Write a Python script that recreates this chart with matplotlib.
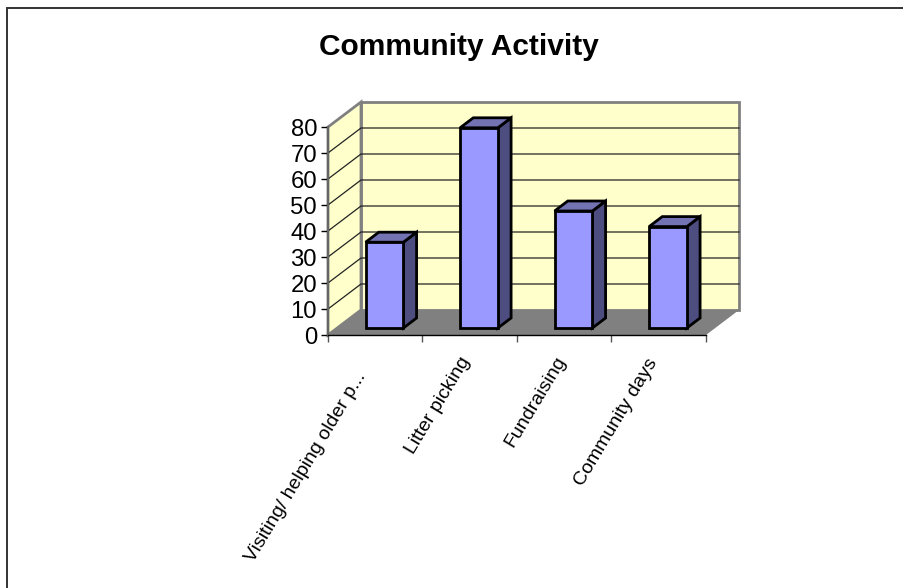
#!/usr/bin/env python3
"""
Community Activity, 3D style bar chart drawn on a flat axes
"""

import matplotlib
matplotlib.use("Agg")
import matplotlib.pyplot as plt
from matplotlib.patches import Polygon

categories = ["Visiting/ helping older p...", "Litter picking", "Fundraising", "Community days"]
values = [33, 77, 45, 39]
yticks = [0, 10, 20, 30, 40, 50, 60, 70, 80]
title = "Community Activity"

W, H = 904, 588


def main():
    """
    main function here
    """
    plt.rcParams['font.family'] = ['Liberation Sans', 'DejaVu Sans']
    fig = plt.figure(figsize=(W / 100, H / 100), dpi=100)
    ax = fig.add_axes([328 / W, 1 - 335 / H, 378 / W, 208 / H])
    ax.set_xlim(0, len(categories))
    ax.set_ylim(0, 80)
    ax.patch.set_alpha(0)

    # depth of the box, in data units
    dx = 33 / 94.5
    dy = 25 / 2.6

    def box(x, y, f):
        return (x + dx * f, y + dy * f)

    def poly(pts, fc, ec="none", lw=0, z=1):
        ax.add_patch(Polygon(pts, closed=True, fc=fc, ec=ec, lw=lw, zorder=z,
                             clip_on=False, joinstyle="miter"))

    n = len(categories)
    poly([box(0, 0, 1), box(n, 0, 1), box(n, 80, 1), box(0, 80, 1)], "#ffffcc", "#808080", 2, 1)
    poly([box(0, 0, 0), box(0, 0, 1), box(0, 80, 1), box(0, 80, 0)], "#ffffcc", "#808080", 2, 1)
    poly([box(0, 0, 0), box(n, 0, 0), box(n, 0, 1), box(0, 0, 1)], "#808080", z=2)

    for v in yticks[1:-1]:
        ax.plot(*zip(box(0, v, 0), box(0, v, 1), box(n, v, 1)), color="#222222", lw=0.9,
                clip_on=False, zorder=2, solid_joinstyle="miter")

    # bars
    f0, f1 = 0.28, 0.68
    for i, v in enumerate(values):
        x0, x1 = i + 0.5 - 0.2, i + 0.5 + 0.2
        poly([box(x1, 0, f0), box(x1, 0, f1), box(x1, v, f1), box(x1, v, f0)], "#4d4d80", "black", 2, 5)
        poly([box(x0, v, f0), box(x1, v, f0), box(x1, v, f1), box(x0, v, f1)], "#7373b3", "black", 2, 5)
        poly([box(x0, 0, f0), box(x1, 0, f0), box(x1, v, f0), box(x0, v, f0)], "#9999ff", "black", 2, 6)

    for s in ("top", "right"):
        ax.spines[s].set_visible(False)
    for s in ("left", "bottom"):
        ax.spines[s].set_color("black")
        ax.spines[s].set_linewidth(1)
        ax.spines[s].set_zorder(3)
    ax.spines["left"].set_color("#666666")
    ax.spines["left"].set_linewidth(1.5)

    ax.set_yticks(yticks)
    ax.tick_params(axis="y", labelsize=17.2, length=5.4, width=1, pad=2.5)
    ax.set_xticks(range(n + 1))
    ax.set_xticklabels([""] * (n + 1))
    ax.tick_params(axis="x", length=5, width=1, color="#555555")

    # slanted category names, offset in pixels from the middle of each slot
    nudges = [(-13, -38), (-3, -23), (-2, -23), (-5, -25)]
    for i, name in enumerate(categories):
        ax.annotate(name, (i + 0.5, 0), xytext=nudges[i], textcoords="offset pixels",
                    rotation=59, rotation_mode="anchor", ha="right", va="center", fontsize=14)

    fig.text(458.5 / W, 1 - 55 / H, title, ha="center", va="baseline", fontsize=21.5, fontweight="bold")

    # chart frame
    fig.add_artist(plt.Line2D([6.8 / W, 6.8 / W, 1], [0, 1 - 8 / H, 1 - 8 / H],
                              color="#333333", lw=1.4, solid_joinstyle="miter"))

    fig.savefig("out.png", dpi=100)


if __name__ == "__main__":
    main()
